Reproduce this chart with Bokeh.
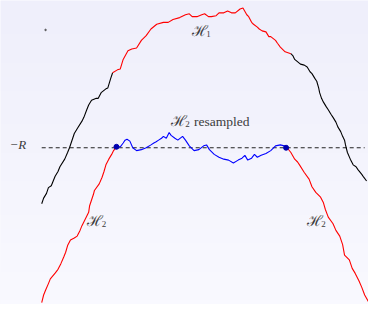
import numpy as np
from bokeh.plotting import figure
from bokeh.models import Range1d
from bokeh.core.properties import value
from bokeh.embed import file_html
from bokeh.resources import INLINE

h1_left_x = [43, 45, 48, 50, 53, 57, 60, 62, 67, 70, 72, 75, 77, 80, 85, 87, 90, 92, 95, 100, 102, 105, 110, 112, 115, 117]
h1_left_y = [214, 208, 203, 197, 195, 185, 180, 175, 167, 160, 155, 146, 140, 135, 127, 123, 115, 110, 105, 103, 103, 97, 93, 92, 82, 76]

h1_mid_x = [117, 122, 125, 128, 133, 137, 142, 147, 152, 157, 163, 170, 175, 180, 187, 193, 197, 200, 205, 210, 213, 217, 220, 225, 228, 233, 237, 241, 245, 250, 253, 257, 259, 262, 264, 268, 270, 273, 277, 280, 282, 287, 289, 292, 297, 303]
h1_mid_y = [76, 73, 72, 62, 53, 51, 50, 42, 37, 30, 25, 23, 23, 20, 18, 15, 14, 17, 17, 15, 14, 17, 17, 16, 13, 13, 11, 13, 13, 9, 8, 15, 17, 23, 25, 28, 30, 32, 33, 38, 38, 42, 45, 49, 54, 56]

h1_right_x = [303, 305, 307, 313, 317, 320, 323, 325, 328, 330, 332, 333, 335, 337, 340, 342, 345, 347, 350, 352, 355, 357, 359, 360, 362, 365, 368, 371, 373, 377, 379, 382]
h1_right_y = [56, 58, 62, 67, 68, 70, 75, 77, 82, 85, 92, 97, 103, 107, 112, 115, 120, 123, 128, 133, 138, 143, 147, 152, 160, 167, 173, 175, 178, 183, 186, 190]

h2_left_x = [43, 45, 47, 50, 52, 57, 60, 63, 66, 68, 70, 73, 77, 80, 83, 85, 88, 92, 93, 95, 97, 98, 103, 106, 108, 110, 113, 116, 118, 121]
h2_left_y = [318, 310, 305, 298, 293, 287, 283, 277, 270, 265, 258, 252, 250, 248, 242, 237, 231, 223, 216, 210, 204, 200, 193, 186, 180, 173, 167, 162, 158, 154]

h2_res_x = [121, 125, 128, 130, 132, 135, 138, 142, 147, 152, 157, 160, 162, 165, 168, 170, 173, 176, 178, 182, 185, 190, 193, 197, 202, 207, 212, 215, 218, 223, 228, 233, 238, 243, 248, 252, 255, 258, 262, 265, 268, 272, 277, 282, 287, 292, 296, 299]
h2_res_y = [154, 154, 150, 147, 146, 148, 155, 158, 157, 155, 152, 150, 149, 147, 145, 143, 145, 139, 142, 145, 147, 143, 147, 153, 158, 157, 153, 152, 157, 162, 165, 167, 168, 171, 168, 166, 163, 168, 166, 162, 165, 163, 161, 158, 153, 152, 153, 154]

h2_right_x = [299, 303, 307, 310, 312, 317, 322, 325, 329, 334, 337, 339, 342, 347, 350, 354, 357, 359, 364, 367, 370, 374, 377, 380, 384]
h2_right_y = [155, 160, 167, 170, 173, 181, 188, 196, 202, 207, 213, 220, 228, 235, 242, 248, 257, 268, 273, 282, 287, 295, 302, 310, 317]

level_x = [43, 380]
level_y = [155, 155]

dot_x = [121, 298]
dot_y = [154, 155]

stray_x = [47]
stray_y = [31]

# labels: script letter, its subscript, following word
script_text = ["\u210b", "\u210b", "\u210b", "\u210b"]
script_x = [208, 186, 99, 328]
script_y = [32, 127, 232, 232]
sub_text = ["1", "2", "2", "2"]
sub_x = [217, 195, 108, 337]
sub_y = [35, 130, 235, 235]
word_text = ["resampled"]
word_x = [202]
word_y = [127]
level_label = ["\u2212R"]
level_label_x = [18]
level_label_y = [152]

TOP = 320  # picture height, used to turn downward positions into heights


def up(ys):
    return [TOP - v for v in ys]


p = figure(width=368, height=304, output_backend="svg", toolbar_location=None,
           x_range=Range1d(0, 384), y_range=Range1d(0, 320),
           min_border=0, min_border_left=0, min_border_right=0,
           min_border_top=0, min_border_bottom=0)
p.axis.visible = False
p.grid.visible = False
p.outline_line_color = None
p.background_fill_color = "#f4f4fd"
p.border_fill_color = "#f4f4fd"

# soft vertical background gradient
n = 64
c0 = np.array([249, 249, 255])  # bottom
c1 = np.array([239, 239, 251])  # top
img = np.empty((n, 1), dtype=np.uint32)
view = img.view(dtype=np.uint8).reshape((n, 1, 4))
for i in range(n):
    t = i / (n - 1)
    c = (c0 * (1 - t) + c1 * t).astype(np.uint8)
    view[i, 0, :3] = c
    view[i, 0, 3] = 255
p.image_rgba(image=[img], x=0, y=0, dw=384, dh=320)

lw = 1.1
p.line(level_x, up(level_y), line_color="#222222", line_width=1, line_dash="4 3")
p.line(h1_left_x, up(h1_left_y), line_color="black", line_width=lw)
p.line(h1_mid_x, up(h1_mid_y), line_color="#ff0000", line_width=lw)
p.line(h1_right_x, up(h1_right_y), line_color="black", line_width=lw)
p.line(h2_left_x, up(h2_left_y), line_color="#ff0000", line_width=lw)
p.line(h2_right_x, up(h2_right_y), line_color="#ff0000", line_width=lw)
p.line(h2_res_x, up(h2_res_y), line_color="#0000ff", line_width=lw)
p.scatter(dot_x, up(dot_y), size=5, color="#0000b0")
p.scatter(stray_x, up(stray_y), size=1.5, color="#555555")

tc = "#3c3c3c"
p.text(x=script_x, y=up(script_y), text=script_text,
       text_font=value("DejaVu Serif"), text_font_size="15px", text_color=tc,
       text_align="center", text_baseline="middle")
p.text(x=sub_x, y=up(sub_y), text=sub_text,
       text_font=value("Liberation Serif"), text_font_size="9px", text_color=tc,
       text_align="center", text_baseline="middle")
p.text(x=word_x, y=up(word_y), text=word_text,
       text_font=value("Liberation Serif"), text_font_size="13.5px", text_color=tc,
       text_align="left", text_baseline="middle")
p.text(x=level_label_x, y=up(level_label_y), text=level_label,
       text_font=value("Liberation Serif"), text_font_size="13px", text_color=tc,
       text_font_style="italic", text_align="center", text_baseline="middle")

open("out.html", "w").write(file_html(p, INLINE))
